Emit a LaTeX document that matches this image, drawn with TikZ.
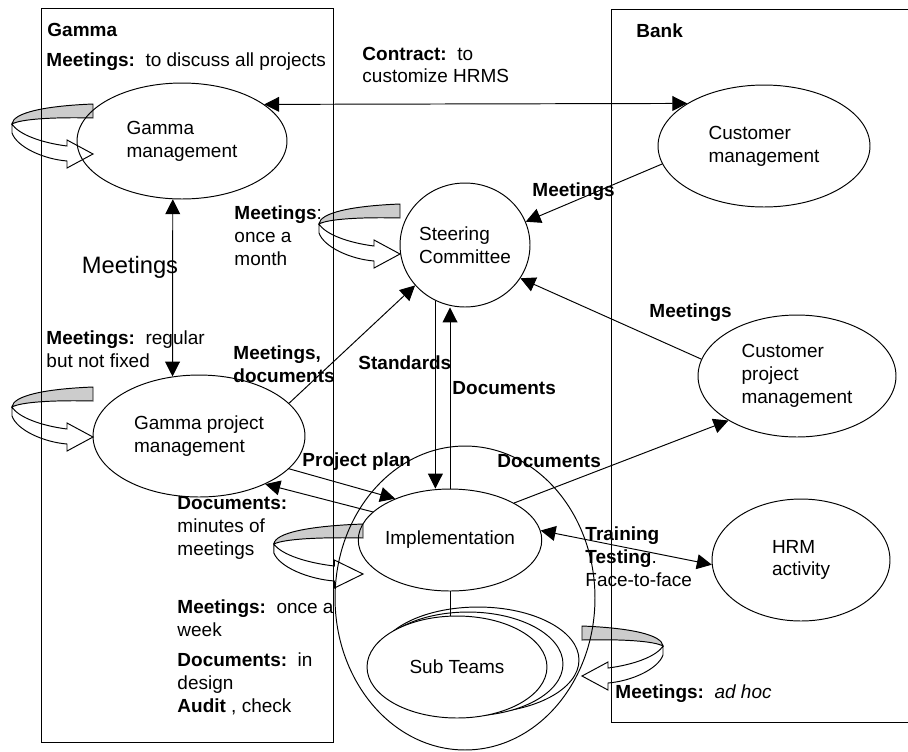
\documentclass[tikz,border=0pt]{standalone}
\usepackage{fontspec}
\setmainfont{Liberation Sans}
\usetikzlibrary{shapes.geometric,arrows.meta}

\begin{document}
\begin{tikzpicture}[x=0.02cm,y=-0.02cm,
        font=\fontsize{10.8}{13}\selectfont,
        line width=0.55pt,
        >={Triangle[length=8.5pt,width=8.5pt]},
        oval/.style={ellipse,draw,inner sep=0pt,align=left},
        lbl/.style={inner sep=0pt,align=left,anchor=west},
        loopbelt/.pic={
            \filldraw[fill=gray!40] (0,-50) .. controls (-50,-48) and (-80,-41) .. (-81,-30)
                .. controls (-72,-35) and (-40,-37) .. (0,-36) -- cycle;
            \filldraw[fill=white] (-81,-30) -- (-81,-21) .. controls (-76,-7) and (-50,5) .. (-26,7)
                -- (-26,14) -- (0,0) -- (-26,-14) -- (-26,-8)
                .. controls (-50,-11) and (-74,-19) .. (-81,-30) -- cycle;
        }]

        \useasboundingbox (0,0) rectangle (908,751);

        % Петли (собрания)
        \pic at (93,154) {loopbelt};
        \pic at (400,254) {loopbelt};
        \pic at (93,437) {loopbelt};
        \pic[xscale=1.1] at (363,574) {loopbelt};
        \pic[xscale=-1] at (582,676) {loopbelt};

        % Области
        \draw (41,8) rectangle (333,742);
        \draw (908,9) -- (611,9) -- (611,722) -- (908,722);

        % Эллипсы
        \node[oval,minimum width=4.2cm,minimum height=2.32cm] (gm) at (182,141) {Gamma\\management};
        \node[oval,minimum width=2.6cm,minimum height=2.48cm] (sc) at (465,245) {Steering\\Committee};
        \node[oval,minimum width=4.24cm,minimum height=2.44cm] (cm) at (764,146) {Customer\\management};
        \node[oval,minimum width=4.24cm,minimum height=2.44cm] (gpm) at (199,436) {Gamma project\\management};
        \node[oval,minimum width=3.96cm,minimum height=2.44cm] (cpm) at (797,376) {Customer\\project\\management};
        \node[oval,minimum width=5.2cm,minimum height=6.08cm] (zone) at (465,598) {};
        \node[oval,minimum width=3.52cm,minimum height=2.04cm] (impl) at (450,540) {Implementation};
        \node[oval,minimum width=3.56cm,minimum height=2.44cm] (hrm) at (801,560) {HRM\\activity};

        % Подгруппы
        \node[oval,fill=white,minimum width=4.04cm,minimum height=2.12cm] (sub3) at (478,660) {};
        \node[oval,fill=white,minimum width=3.8cm,minimum height=2.08cm] (sub2) at (468,664) {};
        \node[oval,fill=white,minimum width=3.6cm,minimum height=2.04cm] (sub) at (457,667) {Sub Teams};

        % Связи
        \draw[<->] (gm.24.5) -- (cm.151.4);
        \draw[<->] (gm.-99) -- (gpm.114);
        \draw[->] (cm.190) -- (sc.21);
        \draw[->] (cpm.170) -- (sc.-31);
        \draw[->] (gpm.20) -- (sc.-141);
        \draw[->] (sc.-118) -- (sc.-118 |- impl.north);
        \draw[->] (impl.north) -- (impl.north |- sc.south);
        \draw[->] (gpm.-20) -- (impl.143);
        \draw[->] (impl.160) -- (gpm.-36);
        \draw[->] (impl.30) -- (cpm.-147);
        \draw[<->] (impl.6) -- (hrm.183);
        \draw (impl.south) -- (impl.south |- sub.north);

        % Подписи
        \node[lbl] (gammaT) at (47,30) {\textbf{Gamma}};
        \node[lbl] (bankT) at (636,31) {\textbf{Bank}};
        \node[lbl] (mAll) at (46,62) {\textbf{Meetings:}\ \ to discuss all projects};
        \node[lbl] (contr) at (362,65) {\textbf{Contract:}\ \ to\\customize HRMS};
        \node[font=\fontsize{13.5}{16}\selectfont] (mBig) at (130,267) {Meetings};
        \node[lbl] (mMonth) at (234,236) {\textbf{Meetings}:\\once a\\month};
        \node[lbl] (mCm) at (532,192) {\textbf{Meetings}};
        \node[lbl] (mCpm) at (649,313) {\textbf{Meetings}};
        \node[lbl] (mReg) at (46,349) {\textbf{Meetings:}\ \ regular\\but not fixed};
        \node[lbl] (mDoc) at (233,364) {\textbf{Meetings,}\\\textbf{documents}};
        \node[lbl] (std) at (358,363) {\textbf{Standards}};
        \node[lbl] (docSc) at (452,388) {\textbf{Documents}};
        \node[lbl] (plan) at (302,462) {\textbf{Project plan}};
        \node[lbl] (docCpm) at (497,461) {\textbf{Documents}};
        \node[lbl] (docMin) at (177,528) {\textbf{Documents:}\\minutes of\\meetings};
        \node[lbl] (train) at (585,557) {\textbf{Training}\\\textbf{Testing}.\\Face-to-face};
        \node[lbl] (mWeek) at (177,618) {\textbf{Meetings:}\ \ once a\\week};
        \node[lbl] (docDes) at (177,684) {\textbf{Documents:}\ \ in\\design\\\textbf{Audit} , check};
        \node[lbl] (mAdhoc) at (615,694) {\textbf{Meetings:}\ \ \textit{ad hoc}};

\end{tikzpicture}
\end{document}
